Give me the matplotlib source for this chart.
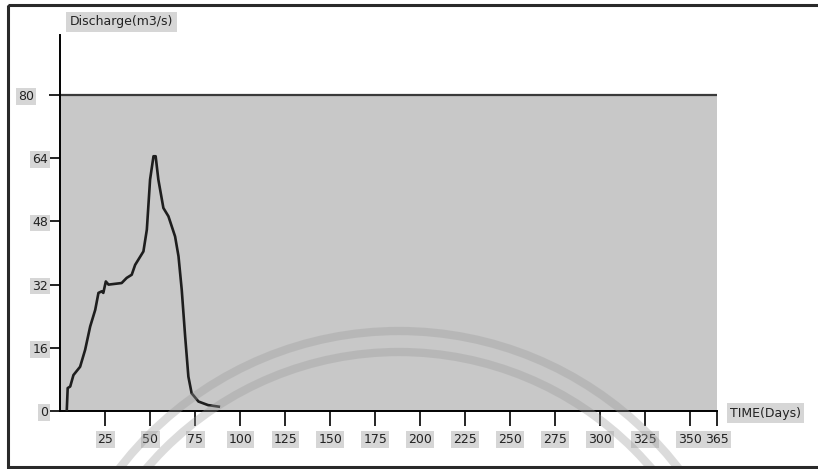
import matplotlib
matplotlib.use("Agg")
from matplotlib import pyplot as plt
from matplotlib.patches import Arc, Rectangle
from matplotlib.transforms import ScaledTranslation

# hydrograph (day, m3/s)
days = [3.5, 4, 5.4, 7.2, 10.9, 13.7, 16.5, 19.3, 21.1, 22.9, 23.8, 25.2, 26.7,
        34, 36.8, 39.6, 41.5, 46.1, 48, 49.8, 51.7, 52.9, 54.4, 57.2, 60, 63.7,
        65.6, 67.4, 69.3, 71.1, 72.9, 76.7, 82, 88]
discharge = [0.3, 5.8, 6.2, 9.1, 11.2, 15.5, 21.4, 25.6, 29.9, 30.3, 29.9, 32.8, 32,
             32.4, 33.7, 34.5, 37, 40.4, 45.9, 58.6, 64.5, 64.5, 58.6, 51.4, 49.3, 44.2,
             39.2, 30.7, 18.9, 8.7, 4.5, 2.4, 1.5, 1.1]

xticks = [25, 50, 75, 100, 125, 150, 175, 200, 225, 250, 275, 300, 325, 350, 365]
yticks = [0, 16, 32, 48, 64, 80]

W, H = 818, 469
fig = plt.figure(figsize=(W / 100, H / 100), dpi=100)
fig.patch.set_facecolor("white")

ax = fig.add_axes([60.5 / W, 1 - 411 / H, (717 - 60.5) / W, (411 - 35) / H])
ax.set_xlim(0, 365)
ax.set_ylim(0, 95.2)
ax.patch.set_visible(False)
ax.axhspan(0, 80, color="#c8c8c8", zorder=0)
ax.axhline(80, color="#3a3a3a", lw=1.6, zorder=1)
ax.plot(days, discharge, color="#1e1e1e", lw=1.9, zorder=3)

for s in ["top", "right"]:
    ax.spines[s].set_visible(False)
ax.spines["left"].set_linewidth(1.4)
ax.spines["bottom"].set_linewidth(1.4)

lbl_box = dict(boxstyle="square,pad=0.15", fc="#d6d6d6", ec="none")
ax.set_xticks(xticks)
ax.set_xticklabels([str(t) for t in xticks], fontsize=9, color="#222222")
ax.tick_params(axis="x", direction="out", length=11, width=1.2, pad=5)
ax.set_yticks(yticks)
ax.set_yticklabels([str(t) for t in yticks], fontsize=9, color="#222222")
ax.tick_params(axis="y", direction="out", length=8, width=1.2, pad=1)
for t in ax.get_xticklabels() + ax.get_yticklabels():
    t.set_bbox(lbl_box)
# the "80" label sits further left in the original
lab80 = ax.get_yticklabels()[-1]
lab80.set_transform(lab80.get_transform() + ScaledTranslation(-14 / 100, 0, fig.dpi_scale_trans))

fig.text(70 / W, 1 - 22 / H, "Discharge(m3/s)", fontsize=9, color="#222222",
         va="center", ha="left",
         bbox=dict(boxstyle="square,pad=0.3", fc="#d6d6d6", ec="none"))
fig.text(730 / W, 1 - 413 / H, "TIME(Days)", fontsize=9, color="#222222",
         va="center", ha="left",
         bbox=dict(boxstyle="square,pad=0.25", fc="#d6d6d6", ec="none"))

# overlay in pixel coords: page frame and faint watermark arcs
ov = fig.add_axes([0, 0, 1, 1], zorder=5)
ov.set_xlim(0, W)
ov.set_ylim(H, 0)
ov.axis("off")
ov.patch.set_visible(False)
for r in [353, 332]:
    ov.add_patch(Arc((399, 684), 2 * r, 2 * r, theta1=180, theta2=360,
                     color="#9a9a9a", lw=6, alpha=0.35))
ov.add_patch(Rectangle((8, 5), W + 20, 462, fill=False, ec="#2a2a2a", lw=2.2))

fig.savefig("out.png", dpi=100)
